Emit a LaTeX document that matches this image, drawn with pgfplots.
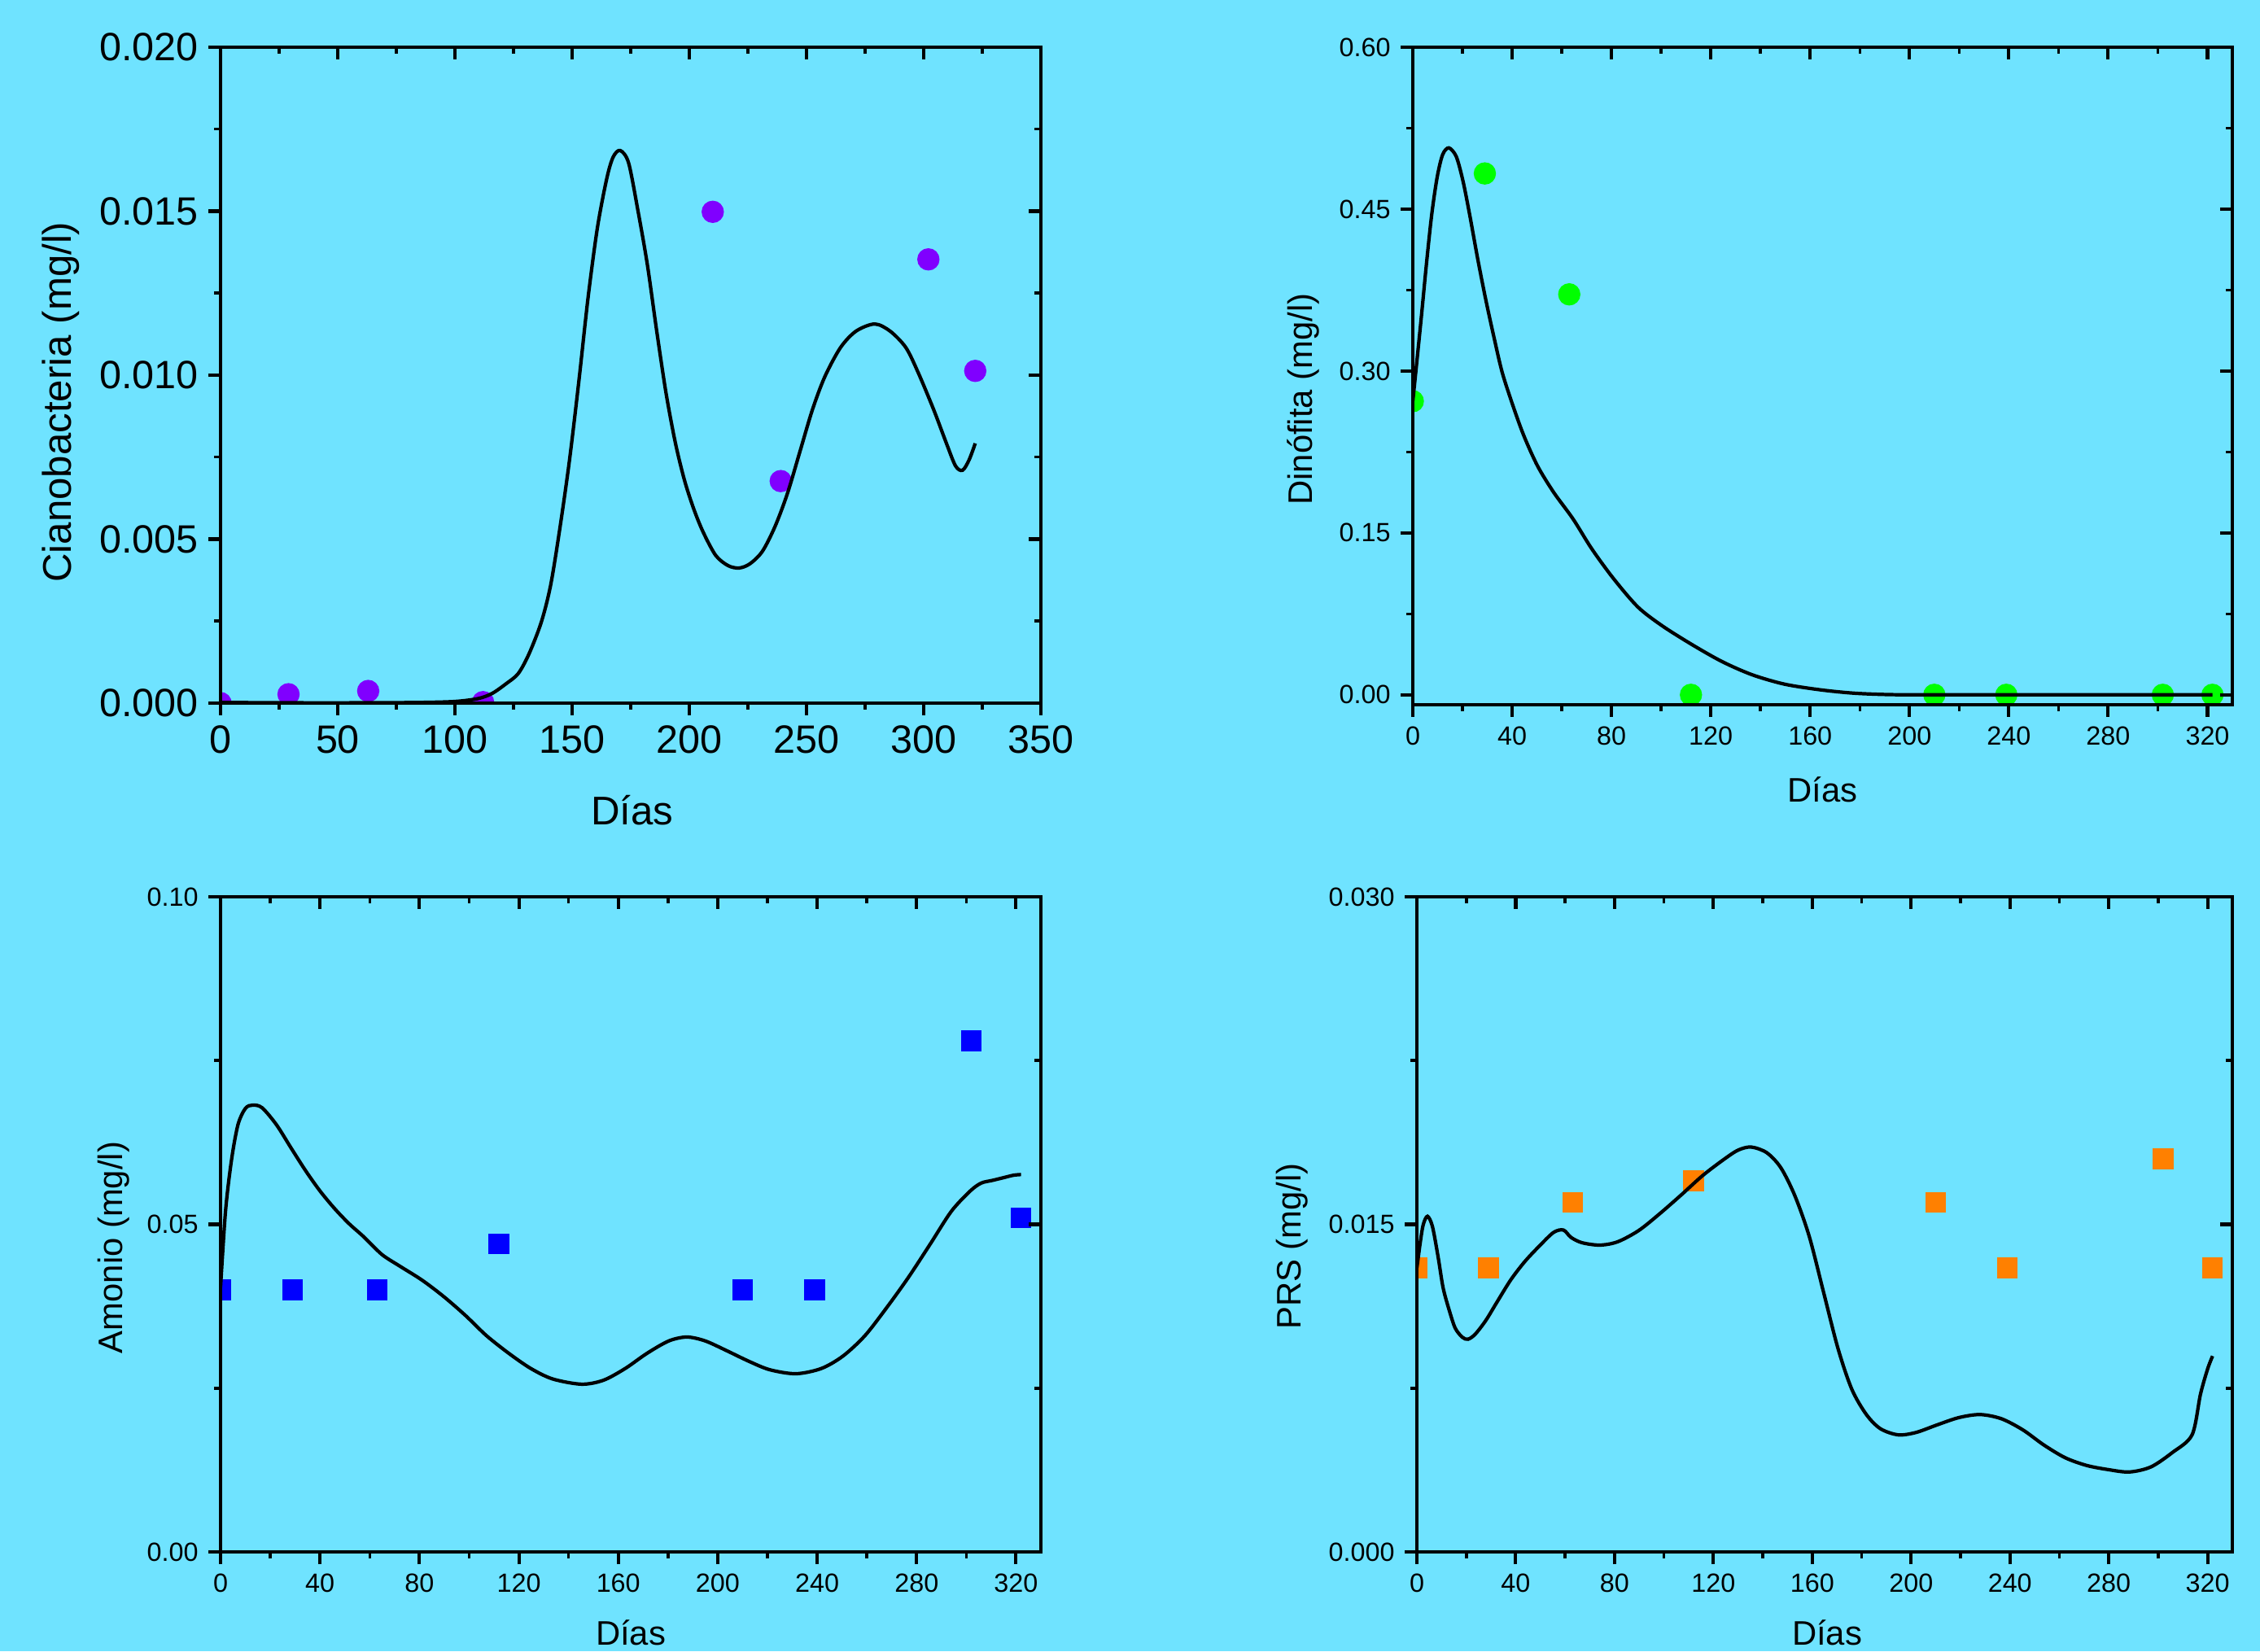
\documentclass[border=0pt]{standalone}
\usepackage{fontspec}
\setmainfont{Liberation Sans}
\usepackage{pgfplots}
\pgfplotsset{compat=1.18}

\definecolor{fondo}{RGB}{111,227,255}
\definecolor{violeta}{RGB}{128,0,255}
\definecolor{verde}{RGB}{0,255,0}
\definecolor{azul}{RGB}{0,0,255}
\definecolor{naranja}{RGB}{255,128,0}

\pgfplotsset{
  common/.style={scale only axis, anchor=south west,
    axis line style={line width=1.15pt},
    major tick length=1.5mm, minor tick length=0.8mm,
    every major tick/.append style={line width=1.15pt, black},
    every minor tick/.append style={line width=1pt, black},
    minor x tick num=1, minor y tick num=1,
    scaled x ticks=false, scaled y ticks=false,
    /pgf/number format/assume math mode=true},
  front/.style={common, tick align=outside, xtick pos=left, ytick pos=left,
    clip marker paths=true, xlabel={Días}},
  back/.style={common, tick align=inside, xtick pos=right, ytick pos=right,
    xticklabels={}, yticklabels={}},
  small/.style={tick label style={font=\fontsize{9.2}{11}\selectfont},
    label style={font=\fontsize{11.9}{14}\selectfont}},
  g1/.style={at={(27.1mm,116.5mm)}, width=100.8mm, height=80.6mm,
    xmin=0, xmax=350, ymin=0, ymax=0.02,
    xtick={0,50,100,150,200,250,300,350}, ytick={0,0.005,0.01,0.015,0.02}},
  g2/.style={at={(173.6mm,116.3mm)}, width=100.7mm, height=80.8mm,
    xmin=0, xmax=330, ymin=-0.0092, ymax=0.6,
    xtick={0,40,...,320}, ytick={0,0.15,0.3,0.45,0.6}},
  g3/.style={at={(27.1mm,12.2mm)}, width=100.8mm, height=80.5mm,
    xmin=0, xmax=330, ymin=0, ymax=0.1,
    xtick={0,40,...,320}, ytick={0,0.05,0.1}},
  g4/.style={at={(174.1mm,12.2mm)}, width=100.2mm, height=80.5mm,
    xmin=0, xmax=330, ymin=0, ymax=0.03,
    xtick={0,40,...,320}, ytick={0,0.015,0.03}},
  curva/.style={black, line width=1.2pt, smooth, no marks},
}

\begin{document}
\begin{tikzpicture}
\fill[fondo] (0,0) rectangle (277.7mm,202.9mm);
\path[use as bounding box] (0,0) rectangle (277.7mm,202.9mm);

% Cianobacteria
\begin{axis}[front, g1,
  tick label style={font=\fontsize{13.8}{16}\selectfont},
  label style={font=\fontsize{14}{16}\selectfont},
  yticklabel style={/pgf/number format/.cd, fixed, fixed zerofill, precision=3},
  ylabel={Cianobacteria (mg/l)},
  xlabel style={at={(axis description cs:0.502,-0.1849)}, anchor=base},
  ylabel style={at={(axis description cs:-0.1825,0.459)}, anchor=base}]
\addplot[only marks, mark=*, mark size=1.3mm, color=violeta] coordinates {
  (0,0) (29,0.00027) (63,0.00037) (112,0.00003) (210,0.01498) (239,0.00677) (302,0.01353) (322,0.01013)};
\addplot[curva] coordinates {
  (0,0.00002) (30,0.00001) (60,0.00001) (85,0.00002) (100,0.00005) (110,0.00014)
  (116,0.0003) (122,0.0006) (127,0.0009) (131.6,0.0015) (136.9,0.00248) (140.9,0.00362)
  (144.9,0.00539) (148.9,0.00742) (152.9,0.00983) (156.8,0.01236) (160.8,0.0145)
  (164.8,0.0160) (167.5,0.01665) (170.5,0.01685) (174.1,0.01647) (178.1,0.01501)
  (182.1,0.01337) (186.1,0.01134) (190.1,0.00944) (194.1,0.00792) (198,0.00678)
  (202,0.0059) (206,0.0052) (211.3,0.0045) (216.6,0.00419) (221.3,0.00412)
  (225.9,0.00425) (231.2,0.00463) (236.6,0.00539) (241.9,0.0064) (247.2,0.00767)
  (252.5,0.00894) (257.8,0.00995) (264.5,0.01084) (271.1,0.01134) (279.1,0.01156)
  (285.7,0.01134) (292.4,0.01084) (297.7,0.01007) (304.3,0.00894) (309.7,0.00792)
  (313.6,0.00723) (316.6,0.0071) (319.4,0.00742) (322,0.00792)};
\end{axis}
\begin{axis}[back, g1]\end{axis}

% Dinofita
\begin{axis}[front, g2, small,
  yticklabel style={/pgf/number format/.cd, fixed, fixed zerofill, precision=2},
  ylabel={Dinófita (mg/l)},
  xlabel style={at={(axis description cs:0.5,-0.1485)}, anchor=base},
  ylabel style={at={(axis description cs:-0.1231,0.4647)}, anchor=base}]
\addplot[only marks, mark=*, mark size=1.3mm, color=verde] coordinates {
  (0,0.272) (29,0.483) (63,0.371) (112,0) (210,0) (239,0) (302,0) (322,0)};
\addplot[curva] coordinates {
  (0,0.272) (3.3,0.347) (5.5,0.3995) (7.6,0.4447) (9.8,0.4795) (12,0.5004) (14.5,0.5067)
  (17.5,0.4986) (20.2,0.476) (22.9,0.4447) (26.2,0.403) (29.5,0.3647) (32.8,0.33)
  (36,0.2986) (40.4,0.2673) (44.8,0.2395) (50.3,0.2117) (56.8,0.1873) (64.5,0.163)
  (72.1,0.1351) (80.9,0.1074) (90.7,0.0812) (100.5,0.0638) (112.5,0.0464)
  (124.5,0.0308) (136.6,0.0186) (149.6,0.0099) (163.8,0.0047) (177,0.0016)
  (190,0.0003) (205,0) (260,0) (322,0)};
\end{axis}
\begin{axis}[back, g2]\end{axis}

% Amonio
\begin{axis}[front, g3, small,
  yticklabel style={/pgf/number format/.cd, fixed, fixed zerofill, precision=2},
  ylabel={Amonio (mg/l)},
  xlabel style={at={(axis description cs:0.5,-0.142)}, anchor=base},
  ylabel style={at={(axis description cs:-0.120,0.4646)}, anchor=base}]
\addplot[only marks, mark=square*, mark size=1.2mm, color=azul] coordinates {
  (0,0.040) (29,0.040) (63,0.040) (112,0.047) (210,0.040) (239,0.040) (302,0.078) (322,0.051)};
\addplot[curva] coordinates {
  (0,0.0404) (2,0.052) (4.4,0.0598) (7,0.0652) (10,0.0677) (12.9,0.0682) (16.7,0.0678)
  (22.5,0.0652) (28.3,0.0617) (34.2,0.0582) (40,0.0551) (45.9,0.0524) (51.7,0.0501)
  (57.6,0.0481) (64.9,0.0454) (72.2,0.0436) (81,0.0415) (89.7,0.039) (98.5,0.0361)
  (107,0.033) (116,0.0303) (124.8,0.028) (133.6,0.0264) (145.2,0.0256) (154,0.0262)
  (162.8,0.028) (171.5,0.0303) (180.3,0.0322) (187.6,0.0328) (195,0.0322) (203.7,0.0307)
  (212.5,0.0291) (221,0.0278) (231.5,0.0272) (241.7,0.028) (250.4,0.0299) (259.2,0.033)
  (268,0.0373) (276.7,0.0419) (285.5,0.047) (294,0.052) (301.6,0.0551) (306,0.0563)
  (310.4,0.0567) (314.7,0.0571) (319,0.0575) (322,0.0576)};
\end{axis}
\begin{axis}[back, g3]\end{axis}

% PRS
\begin{axis}[front, g4, small,
  yticklabel style={/pgf/number format/.cd, fixed, fixed zerofill, precision=3},
  ylabel={PRS (mg/l)},
  xlabel style={at={(axis description cs:0.503,-0.142)}, anchor=base},
  ylabel style={at={(axis description cs:-0.1427,0.4666)}, anchor=base}]
\addplot[only marks, mark=square*, mark size=1.2mm, color=naranja] coordinates {
  (0,0.013) (29,0.013) (63,0.016) (112,0.017) (210,0.016) (239,0.013) (302,0.018) (322,0.013)};
\addplot[curva] coordinates {
  (0,0.013) (1.4,0.0142) (2.6,0.015) (4.3,0.01537) (6.3,0.0149) (8.6,0.0135) (10.6,0.0121)
  (13,0.0111) (15.5,0.01025) (18.4,0.00983) (20.7,0.00974) (23.6,0.00997) (27.9,0.0106)
  (32.2,0.0114) (38,0.01246) (43.7,0.0133) (49.5,0.0140) (55.3,0.01463) (59.3,0.01474)
  (62.4,0.0144) (66.8,0.01416) (74,0.01405) (81.2,0.0142) (89.8,0.01472) (98.4,0.0155)
  (107,0.01635) (115.7,0.01724) (124.3,0.01798) (130,0.0184) (135.3,0.01854)
  (141.6,0.01828) (147.3,0.01759) (153,0.0163) (158.8,0.01444) (164.6,0.01188)
  (170.4,0.00932) (176,0.00745) (181.9,0.00629) (187.6,0.00564) (194.8,0.00536)
  (202,0.00547) (210.6,0.00582) (219.3,0.00615) (227.9,0.00629) (236.5,0.0061)
  (245.2,0.00559) (253.8,0.00489) (262.4,0.00431) (271,0.00396) (279.7,0.00377)
  (288.3,0.00366) (297,0.00389) (305.6,0.00454) (313.7,0.00536) (317.1,0.00722)
  (320,0.00838) (322,0.00897)};
\end{axis}
\begin{axis}[back, g4]\end{axis}

\end{tikzpicture}
\end{document}
